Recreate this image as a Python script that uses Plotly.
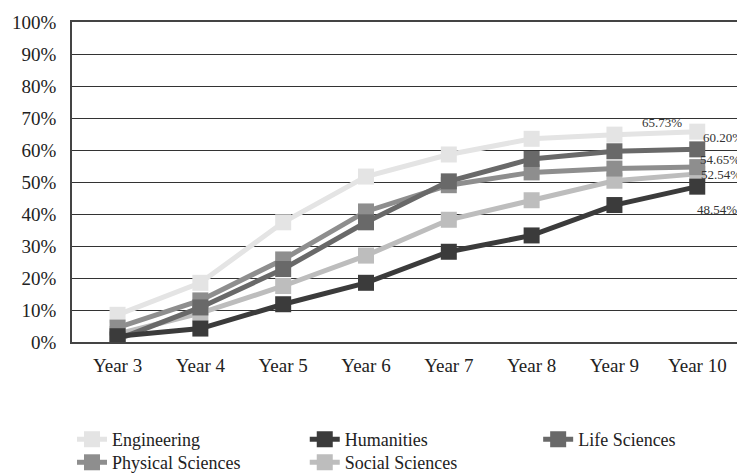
import plotly.graph_objects as go

years = ["Year 3", "Year 4", "Year 5", "Year 6", "Year 7", "Year 8", "Year 9", "Year 10"]

engineering = [8.5, 18.5, 37.4, 51.7, 58.6, 63.5, 64.8, 65.73]
humanities = [1.8, 4.2, 11.8, 18.5, 28.2, 33.3, 42.8, 48.54]
life_sciences = [0.8, 10.8, 22.8, 37.4, 50.2, 57.2, 59.6, 60.20]
physical_sciences = [4.5, 13.0, 25.8, 40.8, 49.0, 53.0, 54.2, 54.65]
social_sciences = [2.5, 9.0, 17.5, 27.0, 38.2, 44.3, 50.4, 52.54]

# name, values, colour, legend slot ; listed in drawing order
series = [
    ("Engineering", engineering, "#e4e4e4", "legend"),
    ("Social Sciences", social_sciences, "#bdbdbd", "legend5"),
    ("Physical Sciences", physical_sciences, "#8e8e8e", "legend4"),
    ("Life Sciences", life_sciences, "#696969", "legend3"),
    ("Humanities", humanities, "#3b3b3b", "legend2"),
]

fig = go.Figure()
for name, values, colour, leg in series:
    fig.add_trace(go.Scatter(
        x=years, y=values, name=name, mode="lines+markers",
        line=dict(color=colour, width=5),
        marker=dict(symbol="square", size=16, color=colour),
        legend=leg, showlegend=True,
    ))

# end-of-line value labels: (series values, xshift, yshift, xanchor)
labels = [
    (engineering, -35, 9, "center"),
    (life_sciences, 4, 12, "left"),
    (physical_sciences, 1, 8, "left"),
    (social_sciences, 2, -1, "left"),
    (humanities, -2, -23, "left"),
]
for values, dx, dy, anchor in labels:
    fig.add_annotation(
        x=years[-1], y=values[-1], text=f"{values[-1]:.2f}%", showarrow=False,
        xshift=dx, yshift=dy, xanchor=anchor,
        font=dict(family="Liberation Serif", size=13, color="#333333"),
    )

legend_style = dict(
    orientation="v", xanchor="left", yanchor="top",
    font=dict(size=18, color="#222222"), bgcolor="rgba(0,0,0,0)",
)
row1, row2 = -0.247, -0.319
fig.update_layout(
    width=745, height=473, showlegend=True,
    margin=dict(l=64, r=16, t=14, b=139, autoexpand=False),
    paper_bgcolor="white", plot_bgcolor="white",
    font=dict(family="Liberation Serif", color="#222222"),
    legend=dict(x=0, y=row1, **legend_style),
    legend2=dict(x=0.35, y=row1, **legend_style),
    legend3=dict(x=0.701, y=row1, **legend_style),
    legend4=dict(x=0, y=row2, **legend_style),
    legend5=dict(x=0.35, y=row2, **legend_style),
)
fig.update_xaxes(
    range=[-0.55, 7.48], showgrid=False,
    showline=True, linecolor="#444444", linewidth=1.5, mirror=True,
    ticks="", ticklabelstandoff=5,
    tickfont=dict(size=19, color="#222222"),
)
fig.update_yaxes(
    range=[0, 100], dtick=10, ticksuffix="%",
    showgrid=True, gridcolor="#333333", gridwidth=1.3,
    showline=True, linecolor="#444444", linewidth=1.5, mirror=True,
    zeroline=False, ticks="", ticklabelstandoff=10,
    tickfont=dict(size=19, color="#222222"),
)

fig.write_html("out.html")
